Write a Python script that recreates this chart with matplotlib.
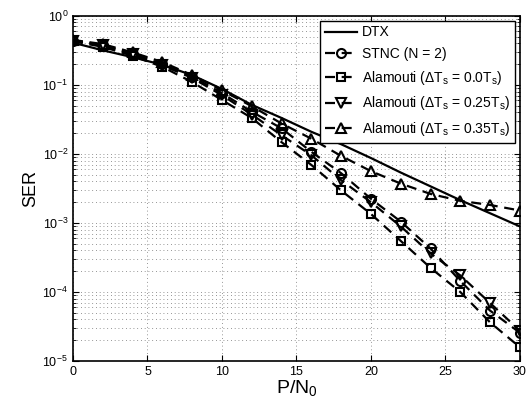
import matplotlib
matplotlib.use("Agg")
import matplotlib.pyplot as plt
import numpy as np

plt.rcParams['font.family'] = ['Liberation Sans', 'DejaVu Sans']
plt.rcParams['mathtext.fontset'] = 'custom'
plt.rcParams['mathtext.rm'] = 'Liberation Sans'
plt.rcParams['mathtext.it'] = 'Liberation Sans'

snr = [0, 2, 4, 6, 8, 10, 12, 14, 16, 18, 20, 22, 24, 26, 28, 30]

# log10(SER)
dtx_log = [-0.39, -0.50, -0.60, -0.71, -0.86, -1.06, -1.29, -1.48, -1.68, -1.86,
           -2.06, -2.27, -2.47, -2.67, -2.86, -3.05]
stnc_log = [-0.36, -0.42, -0.55, -0.70, -0.88, -1.12, -1.39, -1.63, -1.97, -2.28,
            -2.65, -2.98, -3.37, -3.84, -4.27, -4.59]
ala00_log = [-0.37, -0.45, -0.58, -0.74, -0.96, -1.22, -1.48, -1.83, -2.16, -2.53,
             -2.87, -3.26, -3.65, -4.00, -4.44, -4.80]
ala25_log = [-0.36, -0.43, -0.56, -0.72, -0.90, -1.15, -1.43, -1.73, -2.02, -2.38,
             -2.70, -3.05, -3.44, -3.76, -4.16, -4.56]
ala35_log = [-0.35, -0.41, -0.53, -0.67, -0.86, -1.08, -1.31, -1.56, -1.78, -2.03,
             -2.25, -2.43, -2.58, -2.68, -2.74, -2.82]

labels = ['DTX', 'STNC (N = 2)',
          r'Alamouti ($\Delta$T$_s$ = 0.0T$_s$)',
          r'Alamouti ($\Delta$T$_s$ = 0.25T$_s$)',
          r'Alamouti ($\Delta$T$_s$ = 0.35T$_s$)']

fig = plt.figure(figsize=(5.27, 4.15), dpi=100)
ax = fig.add_axes([0.1385, 0.130, 0.848, 0.832])

x = np.array(snr)
ax.semilogy(x, 10 ** np.array(dtx_log), 'k-', lw=1.6, label=labels[0])
mk = dict(color='k', ls='--', lw=1.6, mfc='none', mec='k', mew=1.5, ms=6.5,
          dashes=(4.5, 3))
ax.semilogy(x, 10 ** np.array(stnc_log), marker='o', label=labels[1], **mk)
ax.semilogy(x, 10 ** np.array(ala00_log), marker='s', label=labels[2], **{**mk, 'ms': 5.5})
ax.semilogy(x, 10 ** np.array(ala25_log), marker='v', label=labels[3], **mk)
ax.semilogy(x, 10 ** np.array(ala35_log), marker='^', label=labels[4], **mk)

ax.set_xlim(0, 30)
ax.set_ylim(1e-5, 1)
ax.set_xticks([0, 5, 10, 15, 20, 25, 30])
ax.grid(True, which='major', ls=(0, (1, 3.5)), color='0.45', lw=0.6)
ax.grid(True, which='minor', axis='y', ls=(0, (1, 3.5)), color='0.45', lw=0.6)
ax.tick_params(which='both', direction='in', labelsize=9, top=True, right=True)
ax.tick_params(which='major', length=4)
ax.tick_params(which='minor', length=2)
for s in ax.spines.values():
    s.set_linewidth(1.2)

ax.set_xlabel(r'P/N$_0$', fontsize=14, labelpad=0)
ax.set_ylabel('SER', fontsize=13, labelpad=2)

leg = ax.legend(loc='upper right', fontsize=10, frameon=True, fancybox=False,
                edgecolor='k', framealpha=1, handlelength=2.3, borderpad=0.35,
                labelspacing=0.55, handletextpad=0.4, borderaxespad=0.35)
leg.get_frame().set_linewidth(1.0)

fig.savefig('out.png', dpi=100)
